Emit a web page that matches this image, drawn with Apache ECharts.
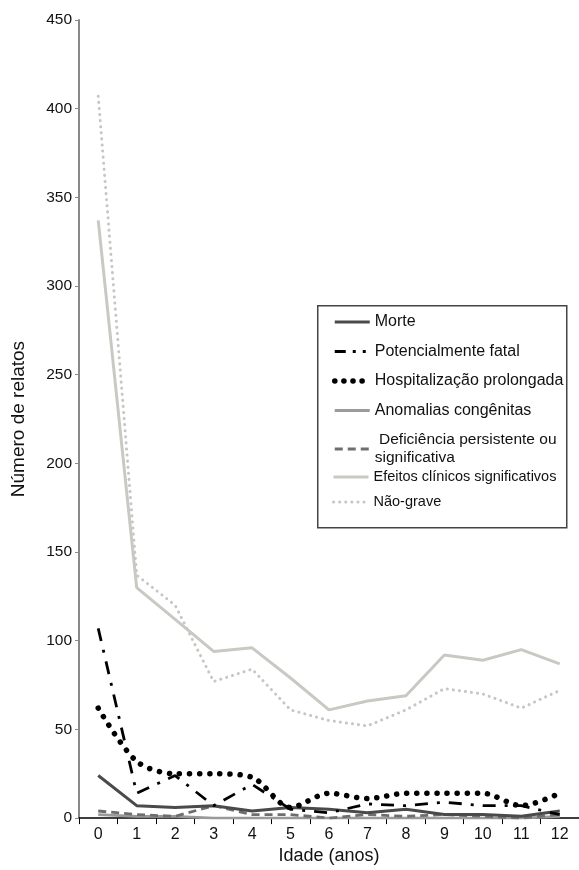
<!DOCTYPE html>
<html><head><meta charset="utf-8">
<script src="https://cdn.jsdelivr.net/npm/echarts@6/dist/echarts.min.js"></script>
<style>html,body{margin:0;padding:0;background:#fff}#c{width:579px;height:870px}</style>
</head><body><div id="c"></div>
<script>
var categories = ['0','1','2','3','4','5','6','7','8','9','10','11','12'];
var morte = [24,7,6,7,4,6,5,3,5,2,2,1,4];
var potencialmenteFatal = [107,14,24,7,19,5,3,8,7,9,7,7,2];
var hospitalizacao = [62,32,25,25,23,6,14,11,14,14,14,7,14];
var anomalias = [2,1,1,0,0,0,0,0,0,0,0,0,1];
var deficiencia = [4,2,1,7,2,2,0,2,1,2,1,0,2];
var efeitos = [337,130,112,94,96,79,61,66,69,92,89,95,87];
var naoGrave = [407,137,120,77,84,61,55,52,61,73,70,62,72];
var yTicks = {min:0, max:450, interval:50};
var legendTop = ['Morte','Potencialmente fatal','Hospitalização prolongada','Anomalias congênitas',' Deficiência persistente ou\nsignificativa'];
var legendBottom = ['Efeitos clínicos significativos','Não-grave'];

var font = 'Liberation Sans, Arial, Helvetica, sans-serif';
var chart = echarts.init(document.getElementById('c'));
var clear = 'rgba(0,0,0,0)';
var styles = {
  'Morte': {color:'#4a4a4a', width:3, type:'solid', cap:'butt'},
  'Potencialmente fatal': {color:'#000', width:2.8, type:[13,9,3,9], cap:'butt'},
  'Hospitalização prolongada': {color:'#000', width:5.5, type:[0.1,10], cap:'round'},
  'Anomalias congênitas': {color:'#9a9a9a', width:2.8, type:'solid', cap:'butt'},
  ' Deficiência persistente ou\nsignificativa': {color:'#6e6e6e', width:2.8, type:[8,5], cap:'butt'},
  'Efeitos clínicos significativos': {color:'#c9c9c3', width:3, type:'solid', cap:'butt'},
  'Não-grave': {color:'#c6c6c6', width:3, type:[0.1,6], cap:'round'}
};
var iconTypes = {
  'Potencialmente fatal': [11,7,3,7,3,40],
  'Hospitalização prolongada': [0.1,9]
};
function s(name, data, extra){
  var o = {name:name, type:'line', data:data, symbol:'none', showSymbol:false,
    lineStyle:styles[name], itemStyle:{color:clear, borderColor:clear}};
  if (extra) for (var k in extra) o[k] = extra[k];
  return o;
}
var legendBase = {
  orient:'vertical', left:332, padding:0, itemWidth:35, itemHeight:18,
  itemStyle:{color:clear, borderColor:clear, borderWidth:0},
  textStyle:{fontSize:16, color:'#111', fontFamily:font, lineHeight:18}
};
function items(names, sizes){
  return names.map(function(n, i){
    var st = styles[n];
    return {name:n, textStyle:{fontSize:sizes[i]},
      lineStyle:{color:st.color, width:st.width, type:iconTypes[n] || st.type, cap:st.cap}};
  });
}
chart.setOption({
  animation:false,
  textStyle:{fontFamily:font},
  grid:{left:79, width:507, top:20, height:805},
  graphic:[{type:'rect', left:317, top:305, shape:{width:249, height:222},
    style:{fill:'#fff', stroke:'#444', lineWidth:1.5}, z:-1}],
  legend:[
    Object.assign({}, legendBase, {top:313, itemGap:11.5, data:items(legendTop,[16,16,16,16,15.5])}),
    Object.assign({}, legendBase, {top:468, itemGap:7, data:items(legendBottom,[14.5,14.5])})
  ],
  xAxis:{
    type:'category', data:categories, boundaryGap:true,
    name:'Idade (anos)', nameLocation:'middle', nameGap:28,
    nameTextStyle:{fontSize:18, color:'#111'},
    axisLine:{lineStyle:{color:'#000', width:1.5}},
    axisTick:{show:true, length:6, alignWithLabel:false, lineStyle:{color:'#000'}},
    axisLabel:{fontSize:16, color:'#111', margin:8}
  },
  yAxis:{
    type:'value', min:yTicks.min, max:yTicks.max, interval:yTicks.interval,
    name:'Número de relatos', nameLocation:'middle', nameGap:51,
    nameTextStyle:{fontSize:19, color:'#111'},
    axisLine:{show:true, lineStyle:{color:'#8a8a88', width:2}},
    axisTick:{show:true, length:4, lineStyle:{color:'#8a8a88'}},
    splitLine:{show:false},
    axisLabel:{fontSize:15.5, color:'#111', margin:7}
  },
  series:[
    s('Efeitos clínicos significativos', efeitos),
    s('Não-grave', naoGrave),
    s('Anomalias congênitas', anomalias),
    s(' Deficiência persistente ou\nsignificativa', deficiencia),
    s('Morte', morte),
    s('Hospitalização prolongada', hospitalizacao, {smooth:0.3}),
    s('Potencialmente fatal', potencialmenteFatal)
  ]
});
</script></body></html>
